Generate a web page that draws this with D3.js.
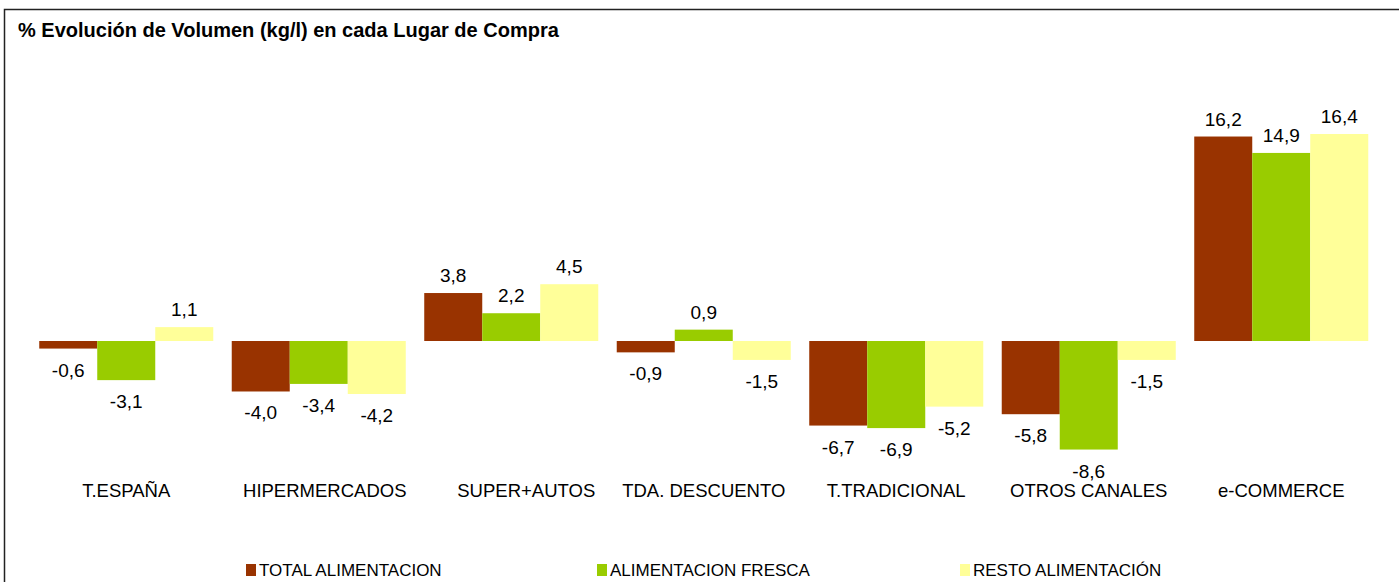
<!DOCTYPE html>
<html><head><meta charset="utf-8">
<script src="https://cdn.jsdelivr.net/npm/d3@7"></script>
<style>body{margin:0;background:#fff;}svg{display:block;font-family:"Liberation Sans",Arial,sans-serif;}</style>
</head><body>
<svg id="c" width="1399" height="582"></svg>
<script>
const categories = ["T.ESPAÑA","HIPERMERCADOS","SUPER+AUTOS","TDA. DESCUENTO","T.TRADICIONAL","OTROS CANALES","e-COMMERCE"];
const seriesNames = ["TOTAL ALIMENTACION","ALIMENTACION FRESCA","RESTO ALIMENTACIÓN"];
const totalAlimentacion = [-0.6,-4.0,3.8,-0.9,-6.7,-5.8,16.2];
const alimentacionFresca = [-3.1,-3.4,2.2,0.9,-6.9,-8.6,14.9];
const restoAlimentacion = [1.1,-4.2,4.5,-1.5,-5.2,-1.5,16.4];
const colors = ["#993300","#99CC00","#FFFF99"];
const title = "% Evolución de Volumen (kg/l) en cada Lugar de Compra";

const series = [totalAlimentacion, alimentacionFresca, restoAlimentacion];
const svg = d3.select("#c");

svg.append("rect").attr("x",4.5).attr("y",9.5).attr("width",1500).attr("height",700)
  .attr("fill","none").attr("stroke","#222").attr("stroke-width",1.5);

svg.append("text").attr("x",18).attr("y",37).attr("font-size",20).attr("font-weight","bold")
  .attr("fill","#000").text(title);

const x0 = d3.scaleBand().domain(categories).range([30,1377.5]).paddingInner(0.096).paddingOuter(0.048);
const x1 = d3.scaleBand().domain(d3.range(3)).range([0,x0.bandwidth()]);
const y = d3.scaleLinear().domain([0,16.4]).range([341,134]);

const fmt = v => d3.format(".1f")(v).replace(".",",").replace("−","-");

categories.forEach((c,i)=>{
  const g = svg.append("g").attr("transform",`translate(${x0(c)},0)`);
  series.forEach((s,j)=>{
    const v = s[i];
    g.append("rect").attr("x",x1(j)).attr("width",x1.bandwidth())
      .attr("y",y(Math.max(0,v))).attr("height",Math.abs(y(v)-y(0)))
      .attr("fill",colors[j]);
    g.append("text").attr("x",x1(j)+x1.bandwidth()/2)
      .attr("y", v>=0 ? y(v)-11 : y(v)+28)
      .attr("text-anchor","middle").attr("font-size",19).attr("fill","#000").text(fmt(v));
  });
});

const xAxis = svg.append("g").attr("transform","translate(0,497)")
  .call(d3.axisBottom(x0).tickSize(0).tickPadding(0));
xAxis.select(".domain").remove();
xAxis.selectAll("text").attr("font-size",18.5).attr("fill","#000")
  .attr("font-family","'Liberation Sans',Arial,sans-serif").attr("dy",0)
  .attr("dx",(d,i)=> i===1 ? 6 : (i===2 ? 15 : 0));

const legendX = [246,597,960];
seriesNames.forEach((n,j)=>{
  svg.append("rect").attr("x",legendX[j]).attr("y",564).attr("width",10).attr("height",12).attr("fill",colors[j]);
  svg.append("text").attr("x",legendX[j]+13).attr("y",576).attr("font-size",17).attr("fill","#000").text(n);
});
</script>
</body></html>
